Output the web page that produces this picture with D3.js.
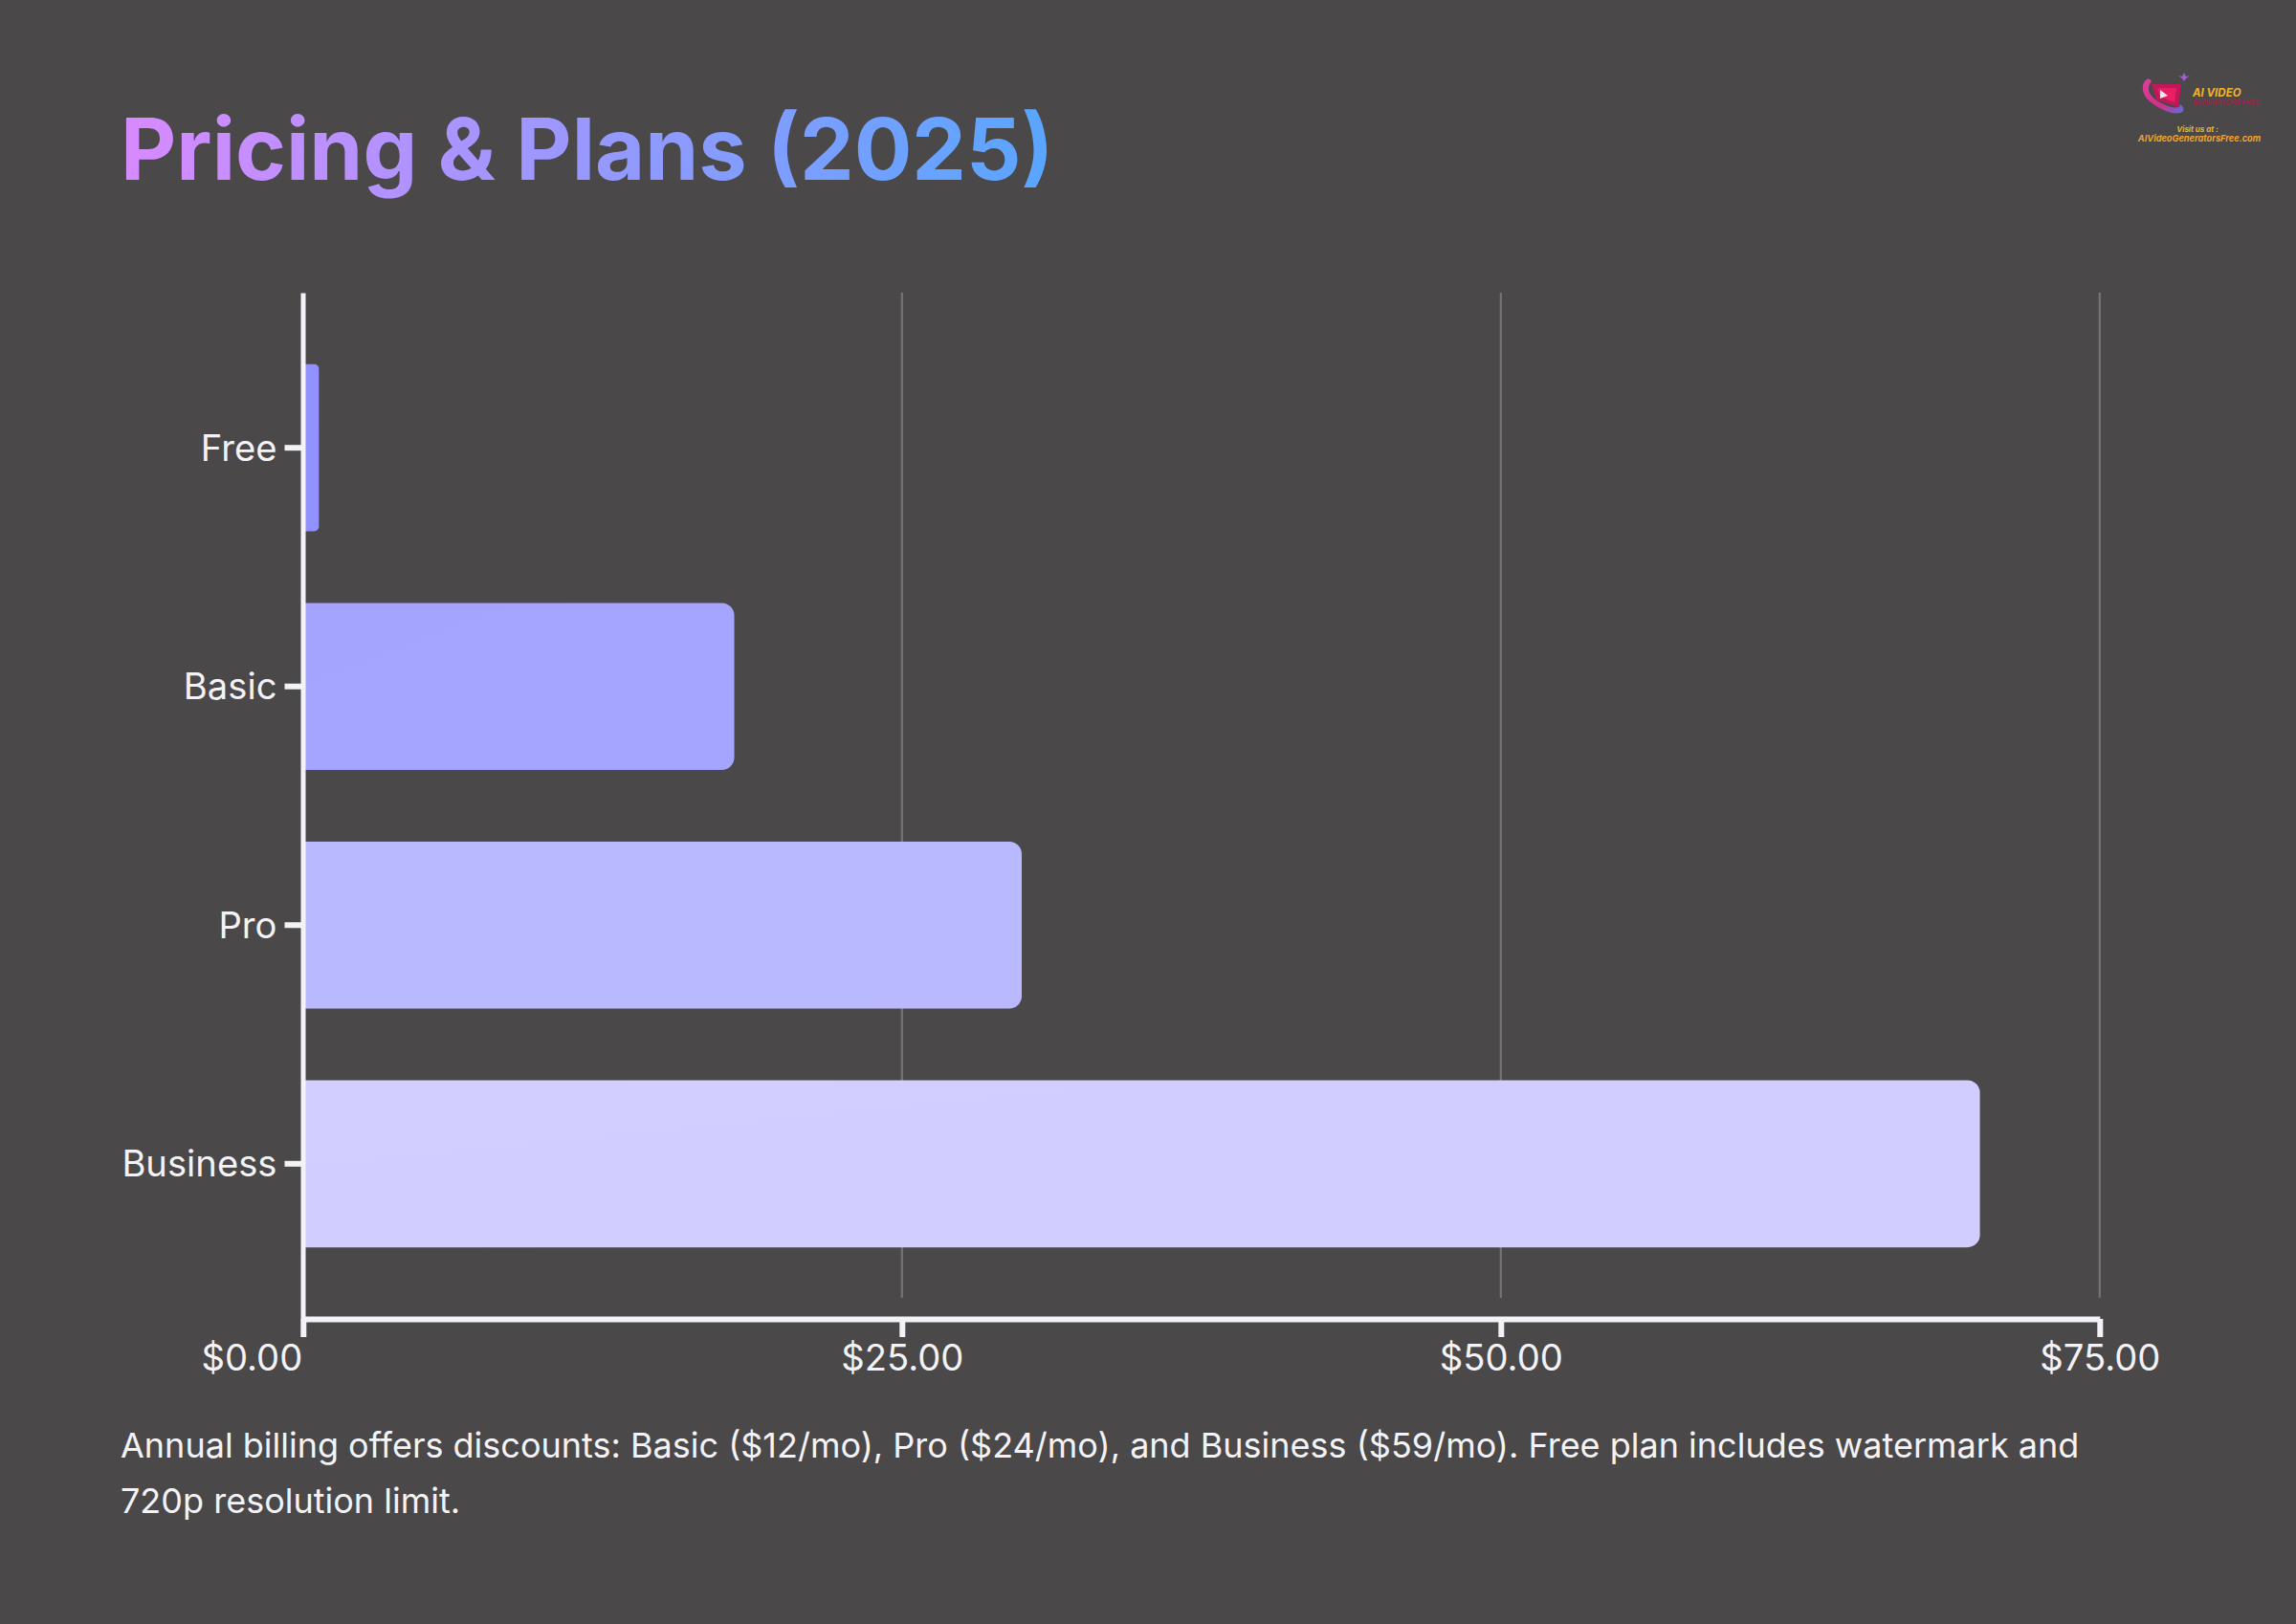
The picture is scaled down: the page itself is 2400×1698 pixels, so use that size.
<!DOCTYPE html>
<html>
<head>
<meta charset="utf-8">
<script src="https://cdn.jsdelivr.net/npm/d3@7"></script>
<style>
  html, body { margin: 0; padding: 0; background: #4a4849; }
  svg { display: block; font-family: Inter, sans-serif; }
</style>
</head>
<body>
<svg id="chart" width="2400" height="1698"></svg>
<script>
// data
var plans = ['Free', 'Basic', 'Pro', 'Business'];
var prices = [0.66, 18, 30, 70];
var priceTicks = [0, 25, 50, 75];
var barColors = [['#9191ff', '#9292ff'], ['#a4a4ff', '#a6a4ff'], ['#b9b9ff', '#baB9ff'], ['#d1cfff', '#d1cdff']];
var noteLines = [
    'Annual billing offers discounts: Basic ($12/mo), Pro ($24/mo), and Business ($59/mo). Free plan includes watermark and',
    '720p resolution limit.'
];

var axisColor = '#f3f3f7';
var svg = d3.select('#chart');
var defs = svg.append('defs');

var x = d3.scaleLinear().domain([0, 75]).range([316.8, 2194.8]);
var y = d3.scaleBand().domain(plans).range([306, 1379]).padding(0.3);

// title
var titleGrad = defs.append('linearGradient').attr('id', 'title-grad')
    .attr('gradientUnits', 'userSpaceOnUse')
    .attr('x1', 126).attr('y1', 120).attr('x2', 1096).attr('y2', 240);
titleGrad.append('stop').attr('offset', 0).attr('stop-color', '#d88aff');
titleGrad.append('stop').attr('offset', 1).attr('stop-color', '#58a6ff');

svg.append('text')
    .attr('x', 126).attr('y', 188)
    .attr('font-size', 90).attr('font-weight', 700)
    .attr('fill', 'url(#title-grad)')
    .text('Pricing & Plans (2025)');

// grid lines
svg.append('g').selectAll('line').data(priceTicks.slice(1)).join('line')
    .attr('x1', d => x(d)).attr('x2', d => x(d))
    .attr('y1', 306).attr('y2', 1357)
    .attr('stroke', '#747375').attr('stroke-width', 2.2);

// bars, square on the axis side and rounded at the end
function barPath(d, i) {
    var x0 = x(0), x1 = x(d), y0 = y(plans[i]), h = y.bandwidth();
    var r = Math.min(13, (x1 - x0) * 0.3);
    var arc = 'A' + r + ',' + r + ' 0 0 1 ';
    return 'M' + x0 + ',' + y0 + 'H' + (x1 - r) + arc + x1 + ',' + (y0 + r)
        + 'V' + (y0 + h - r) + arc + (x1 - r) + ',' + (y0 + h) + 'H' + x0 + 'Z';
}

barColors.forEach(function(c, i) {
    var g = defs.append('linearGradient').attr('id', 'bar-' + i)
        .attr('x1', 0).attr('y1', 0).attr('x2', 1).attr('y2', 1);
    g.append('stop').attr('offset', 0).attr('stop-color', c[0]);
    g.append('stop').attr('offset', 1).attr('stop-color', c[1]);
});

svg.append('g').selectAll('path').data(prices).join('path')
    .attr('d', barPath)
    .attr('fill', (d, i) => 'url(#bar-' + i + ')');

// axes
var xAxis = svg.append('g').attr('transform', 'translate(0,1379)')
    .call(d3.axisBottom(x).tickValues(priceTicks).tickFormat(d3.format('$.2f')).tickSize(19).tickSizeOuter(0).tickPadding(7.5));
var yAxis = svg.append('g').attr('transform', 'translate(316.5,0)')
    .call(d3.axisLeft(y).tickSize(19).tickSizeOuter(0).tickPadding(8));

xAxis.select('.domain').attr('stroke', axisColor).attr('stroke-width', 6);
xAxis.selectAll('.tick line').attr('stroke', axisColor).attr('stroke-width', 6);
yAxis.select('.domain').attr('stroke', axisColor).attr('stroke-width', 5);
yAxis.selectAll('.tick line').attr('stroke', axisColor).attr('stroke-width', 6);

svg.selectAll('.tick text')
    .attr('font-family', 'Inter, sans-serif').attr('font-size', 38.2).attr('fill', axisColor);
yAxis.selectAll('.tick text').attr('transform', 'translate(0,1.2)');
xAxis.selectAll('.tick text').filter(d => d === 0)
    .attr('text-anchor', 'end').attr('dx', -1);

// note under the chart
svg.append('g').selectAll('text').data(noteLines).join('text')
    .attr('x', 126).attr('y', (d, i) => 1524 + i * 58)
    .attr('font-size', 36).attr('fill', axisColor)
    .text(d => d);

// logo, top right
var logo = svg.append('g');
var ringGrad = defs.append('linearGradient').attr('id', 'ring-grad')
    .attr('x1', 0).attr('y1', 0).attr('x2', 1).attr('y2', 1);
ringGrad.append('stop').attr('offset', 0).attr('stop-color', '#e0409a');
ringGrad.append('stop').attr('offset', 0.6).attr('stop-color', '#d0308a');
ringGrad.append('stop').attr('offset', 1).attr('stop-color', '#5a6ee0');

logo.append('path')
    .attr('d', 'M2243,84 C2238,88 2238,100 2250,108 C2260,116 2275,121 2281,117 C2284,115 2282,111 2279,109 C2278,115 2268,113 2256,106 C2246,100 2243,92 2249,85 C2247,82 2245,82 2243,84 Z')
    .attr('fill', 'url(#ring-grad)');
logo.append('path')
    .attr('d', 'M2249,88 L2280,88 L2277,112 L2254,104 Z')
    .attr('fill', '#c2185b');
logo.append('path')
    .attr('d', 'M2255,92 L2275,92 L2273,107 L2258,101 Z')
    .attr('fill', '#e91e63');
logo.append('path')
    .attr('d', 'M2258,94 L2266,100 L2258,103 Z')
    .attr('fill', '#f5e6ea');
logo.append('path')
    .attr('d', 'M2283,76 L2285,80 L2289,79 L2285,82 L2283,85 L2281,82 L2277,79 L2281,80 Z')
    .attr('fill', '#a45fd0');

var logoTexts = svg.append('g').attr('font-family', 'Inter, sans-serif')
    .attr('font-style', 'italic').attr('font-weight', 700);
logoTexts.append('text').attr('x', 2292).attr('y', 101).attr('font-size', 11.5)
    .attr('fill', '#f0b429').text('AI VIDEO');
logoTexts.append('text').attr('x', 2292).attr('y', 109).attr('font-size', 7.4)
    .attr('font-weight', 600).attr('fill', '#a82048').text('GENERATORS FREE');
logoTexts.append('text').attr('x', 2297).attr('y', 137.5).attr('font-size', 8)
    .attr('text-anchor', 'middle').attr('fill', '#f0b429').text('Visit us at :');
logoTexts.append('text').attr('x', 2299).attr('y', 148).attr('font-size', 9.2)
    .attr('text-anchor', 'middle').attr('fill', '#f0a429').text('AIVideoGeneratorsFree.com');
</script>
</body>
</html>
